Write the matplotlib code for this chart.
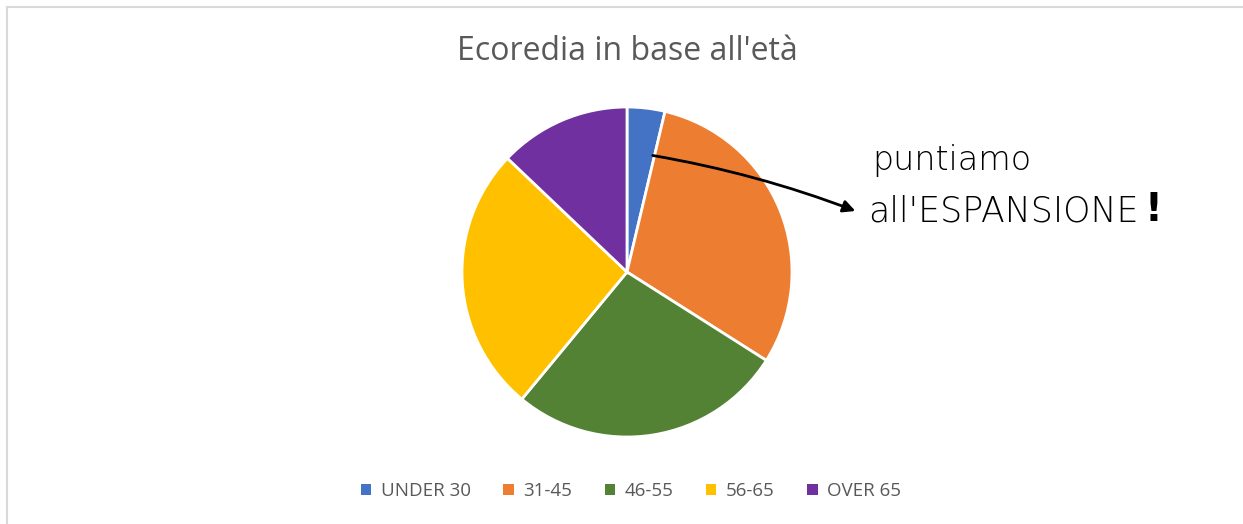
import numpy as np
import matplotlib.pyplot as plt
from matplotlib.patches import Patch
from matplotlib.lines import Line2D

# dati
categorie = ['UNDER 30', '31-45', '46-55', '56-65', 'OVER 65']
valori = [3.7, 30.3, 27.0, 26.1, 12.9]
colori = ['#4472C4', '#ED7D31', '#548235', '#FFC000', '#7030A0']
titolo = "Ecoredia in base all'età"

W, H = 1243, 524
fig = plt.figure(figsize=(W / 100, H / 100), dpi=100)
fig.patch.set_facecolor('white')

# bordo grigio del grafico (sinistra e sopra)
fig.add_artist(Line2D([7 / W, 7 / W], [0, 1 - 7 / H], transform=fig.transFigure, color='#D9D9D9', lw=1.5))
fig.add_artist(Line2D([7 / W, 1], [1 - 7 / H, 1 - 7 / H], transform=fig.transFigure, color='#D9D9D9', lw=1.5))

cx, cy, r = 627, 272, 165
ax = fig.add_axes([(cx - r) / W, (H - cy - r) / H, 2 * r / W, 2 * r / H])
ax.pie(valori, colors=colori, startangle=90, counterclock=False, radius=1,
       wedgeprops=dict(edgecolor='white', linewidth=2))
ax.set_xlim(-1, 1)
ax.set_ylim(-1, 1)
ax.set_aspect('equal')
ax.axis('off')

fig.text(cx / W, 1 - 52 / H, titolo, ha='center', va='center', fontsize=23,
         color='#595959', family='Open Sans')

handles = [Patch(facecolor=c, edgecolor='none') for c in colori]
fig.legend(handles, categorie, loc='center', bbox_to_anchor=(631 / W, 1 - 491 / H), ncol=5,
           frameon=False, handlelength=0.55, handleheight=0.55, handletextpad=0.5,
           columnspacing=1.75, prop=dict(family='Open Sans', size=13.5), labelcolor='#595959')

# nota con freccia
fig.text(872 / W, 1 - 160 / H, 'puntiamo', ha='left', va='center', fontsize=24,
         color='black', family='DejaVu Sans', fontweight='light')
fig.text(868 / W, 1 - 212 / H, "all'ESPANSIONE", ha='left', va='center', fontsize=25,
         color='black', family='DejaVu Sans', fontweight='light')
fig.text(1144 / W, 1 - 210 / H, "!", ha='left', va='center', fontsize=28,
         color='black', family='DejaVu Sans', fontweight='bold')
ax.annotate('', xy=(858 / W, 1 - 212 / H), xycoords='figure fraction',
            xytext=((650 - cx) / r, (cy - 155) / r), textcoords='data',
            arrowprops=dict(arrowstyle='-|>', color='black', lw=2, mutation_scale=18,
                            connectionstyle='arc3,rad=-0.05'),
            annotation_clip=False)

fig.savefig('out.png', dpi=100)
